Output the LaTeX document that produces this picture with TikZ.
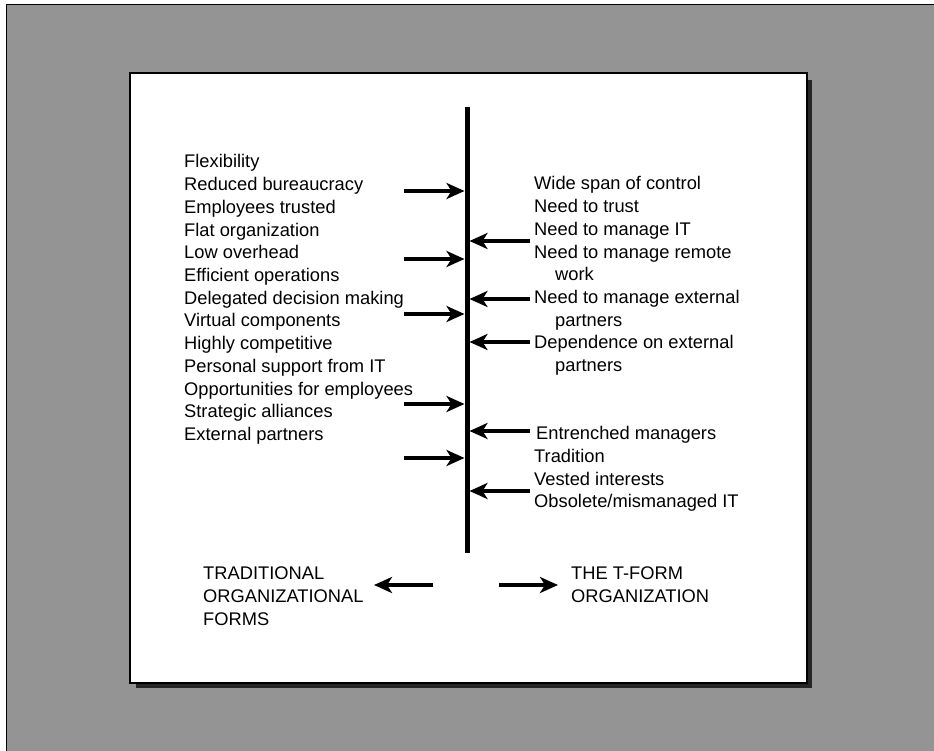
\documentclass[tikz,border=0pt]{standalone}
\usepackage{fontspec}
\setmainfont{Liberation Sans}
\usetikzlibrary{arrows.meta}
\begin{document}
\begin{tikzpicture}[x=1pt,y=-1pt,
  every node/.style={font=\fontsize{18.3}{22.7}\selectfont,inner sep=0pt},
  item/.style={anchor=base west},
  arr/.style={-{Stealth[length=18pt,width=16pt,inset=5pt]},line width=3.4pt}]
\useasboundingbox (0,0) rectangle (934,751);
% frame
\fill[black!42] (6,5) rectangle (934,751);
\draw[line width=1pt] (6,751) -- (6,5) -- (934,5);
\fill[black!85] (136,80) rectangle (812,688);
\draw[fill=white,line width=1.2pt] (130,73) rectangle (807,683);
% spine
\coordinate (top) at (467,107);
\coordinate (bot) at (467,553);
\draw[line width=5pt] (top) -- (bot);
% left column
\foreach \t [count=\i from 0] in {Flexibility,Reduced bureaucracy,Employees trusted,Flat organization,Low overhead,Efficient operations,Delegated decision making,Virtual components,Highly competitive,Personal support from IT,Opportunities for employees,Strategic alliances,External partners}
  \node[item] (lft\i) at (184,168+22.7*\i) {\t};
% right column
\foreach \t/\dx/\k in {Wide span of control/0/0,Need to trust/0/1,Need to manage IT/0/2,Need to manage remote/0/3,work/21/4,Need to manage external/0/5,partners/21/6,Dependence on external/0/7,partners/21/8,Entrenched managers/2/11,Tradition/0/12,Vested interests/0/13,{Obsolete/mismanaged IT}/0/14}
  \node[item] (rgt\k) at (534+\dx,190+22.7*\k) {\t};
% arrows into the spine
\foreach \y [count=\i] in {191,259,314,404,458} {
  \coordinate (pa\i) at (404,\y); \coordinate (pb\i) at (464.5,\y);
  \draw[arr] (pa\i) -- (pb\i);}
\foreach \y [count=\i] in {241,299,342,431,491} {
  \coordinate (ma\i) at (530,\y); \coordinate (mb\i) at (469.5,\y);
  \draw[arr] (ma\i) -- (mb\i);}
% bottom
\node[anchor=north west,align=left] (trad) at (203,567) {TRADITIONAL\\ORGANIZATIONAL\\FORMS};
\node[anchor=north west,align=left] (tform) at (571,567) {THE T-FORM\\ORGANIZATION};
\coordinate (la) at (433,585); \coordinate (lb) at (374,585);
\coordinate (ra) at (499,585); \coordinate (rb) at (558,585);
\draw[arr] (la) -- (lb);
\draw[arr] (ra) -- (rb);
\end{tikzpicture}
\end{document}
